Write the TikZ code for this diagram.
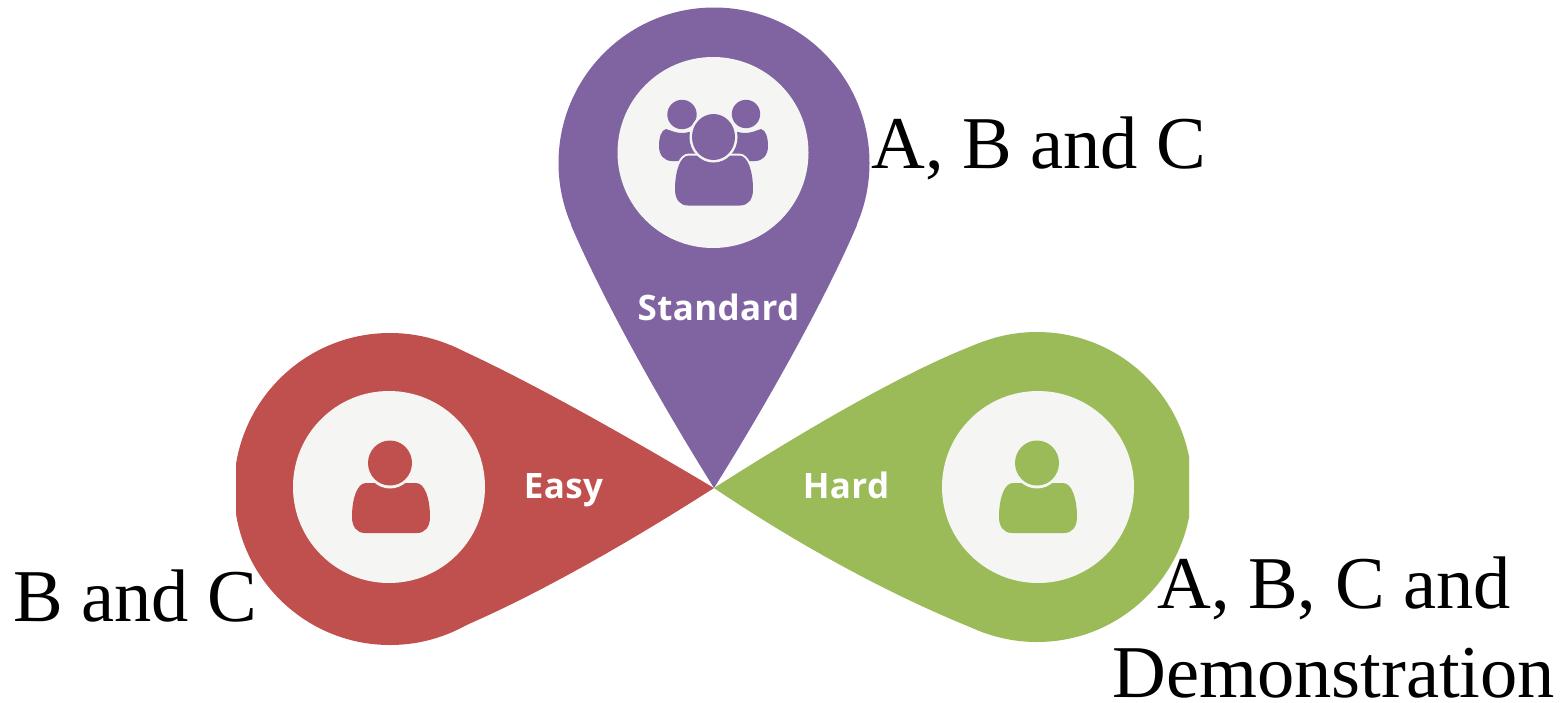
\documentclass[tikz,border=0pt]{standalone}
\usepackage{fontspec}
\setmainfont{Liberation Serif}
\newfontfamily\labelfont[LetterSpace=1]{Open Sans}
\definecolor{cpurple}{HTML}{8064A2}
\definecolor{cred}{HTML}{C0504D}
\definecolor{cgreen}{HTML}{9BBB59}
\definecolor{cdisc}{HTML}{F5F5F3}
\tikzset{
  disc/.style={fill=cdisc,draw=none},
  petallabel/.style={anchor=base,text=white,font=\labelfont\bfseries\fontsize{35}{38}\selectfont,inner sep=0pt},
  answer/.style={anchor=base west,text=black,font=\fontsize{74.5}{80}\selectfont,inner sep=0pt},
  pics/bodyshape/.style={code={
    \path[pic actions] (-25,0) -- (25,0)
      .. controls (34,0) and (39,16) .. (39,34)
      .. controls (39,44) and (34,50) .. (26,50) -- (-26,50)
      .. controls (-34,50) and (-39,44) .. (-39,34)
      .. controls (-39,16) and (-34,0) .. (-25,0) -- cycle;
  }}
}
\begin{document}
\begin{tikzpicture}[x=1pt,y=-1pt]
\useasboundingbox (0,0) rectangle (1560,702);
% purple
\fill[cpurple] (714,163) circle[radius=155.5];
\fill[cpurple] (571,225) .. controls (603,300) and (662,405) .. (714,488)
  .. controls (766,405) and (825,300) .. (857,225) -- cycle;
% red
\begin{scope}
\clip (236,300) rectangle (800,680);
\fill[cred] (390,489) circle[radius=156];
\fill[cred] (450,345) .. controls (520,376) and (620,432) .. (714,488)
  .. controls (625,545) and (525,602) .. (445,634) -- cycle;
\end{scope}
% green
\begin{scope}
\clip (600,300) rectangle (1189,680);
\fill[cgreen] (1037,487) circle[radius=155];
\fill[cgreen] (985,341) .. controls (910,368) and (805,430) .. (714,488)
  .. controls (800,546) and (895,598) .. (985,633) -- cycle;
\end{scope}
% discs
\fill[disc] (713,152.5) circle[radius=95.5];
\fill[disc] (389,487) circle[radius=96];
\fill[disc] (1038,487) circle[radius=96];
% group icon
\fill[cpurple] (666,129) .. controls (672,131) and (676,133) .. (682,133)
  .. controls (688,133) and (692,131) .. (698,129) -- (704,161) -- (672,161)
  .. controls (664,161) and (659,155) .. (659,146)
  .. controls (659,138) and (661,130) .. (666,129) -- cycle;
\fill[cpurple] (761,129) .. controls (755,131) and (751,133) .. (745,133)
  .. controls (739,133) and (735,131) .. (729,129) -- (723,161) -- (755,161)
  .. controls (763,161) and (768,155) .. (768,146)
  .. controls (768,138) and (766,130) .. (761,129) -- cycle;
\fill[cdisc] (682,114.5) circle[radius=17];
\fill[cdisc] (746,114) circle[radius=16.5];
\fill[cpurple] (682,114.5) circle[radius=14.7];
\fill[cpurple] (746,114) circle[radius=14.2];
\path pic[fill=cdisc,draw=cdisc,line width=4pt] at (714,155.5) {bodyshape};
\path pic[fill=cpurple] at (714,155.5) {bodyshape};
\fill[cdisc] (713.5,137) ellipse[x radius=24,y radius=25.5];
\fill[cpurple] (713.5,137) ellipse[x radius=21.5,y radius=23];
% single icons
\path pic[fill=cred] at (391,483) {bodyshape};
\fill[cdisc] (390,463) ellipse[x radius=24.5,y radius=25.5];
\fill[cred] (390,463) ellipse[x radius=22,y radius=22.5];
\path pic[fill=cgreen] at (1038,483) {bodyshape};
\fill[cdisc] (1037,463) ellipse[x radius=24.5,y radius=25.5];
\fill[cgreen] (1037,463) ellipse[x radius=22,y radius=22.5];
% labels
\node[petallabel] (standard) at (718.5,320) {Standard};
\node[petallabel] (easy) at (563.5,498) {Easy};
\node[petallabel] (hard) at (846,498) {Hard};
\node[answer] (abc) at (871,168) {A, B and C};
\node[answer] (bc) at (13,621) {B and C};
\node[answer] (abcd) at (1157,608) {A, B, C and};
\node[answer] (demo) at (1112,697) {Demonstration};
\end{tikzpicture}
\end{document}
